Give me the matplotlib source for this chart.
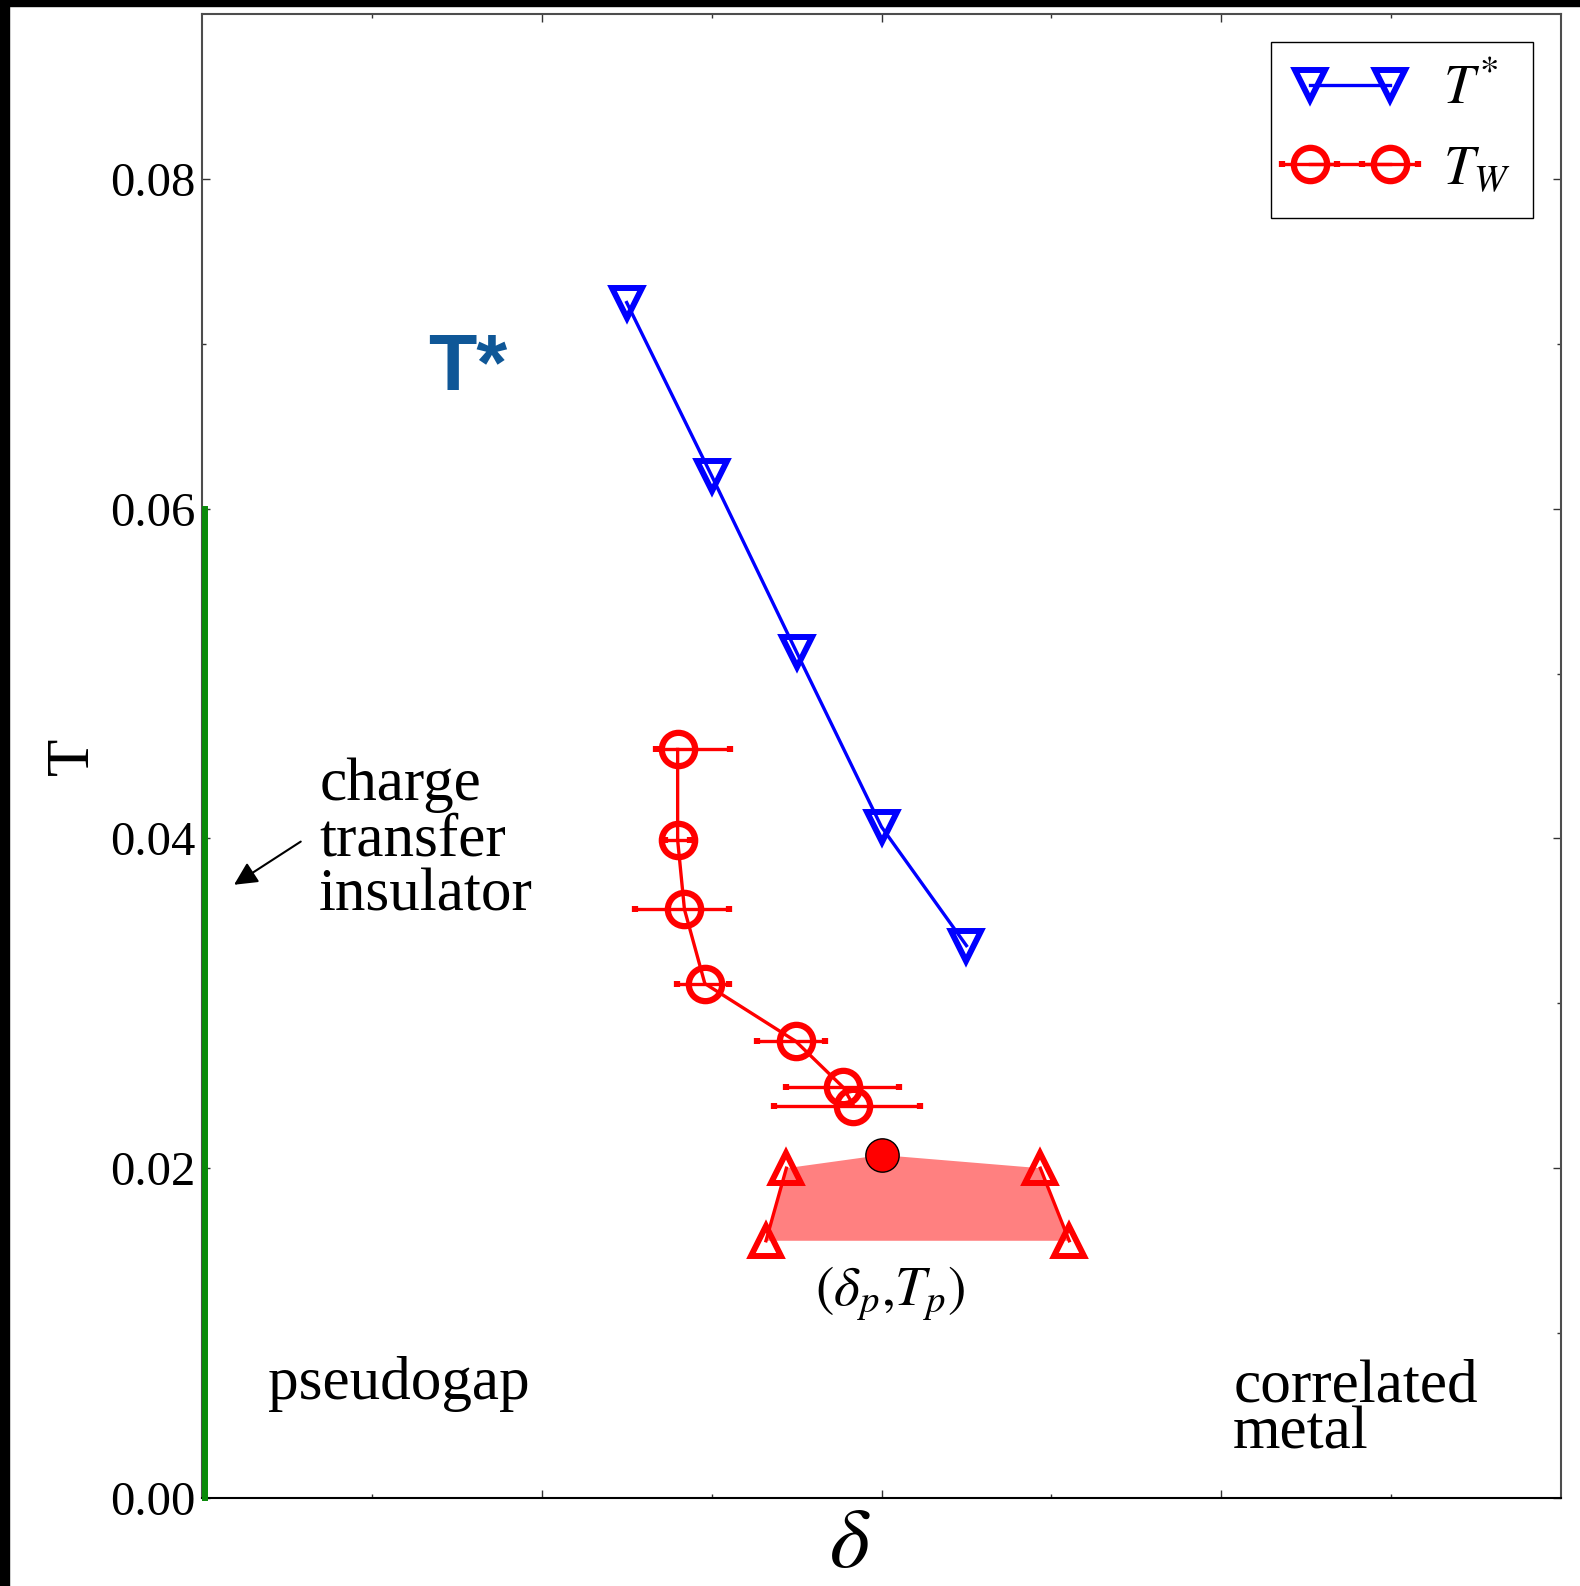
import numpy as np
import matplotlib
matplotlib.use("Agg")
import matplotlib.pyplot as plt
from matplotlib.patches import Rectangle

plt.rcParams['font.family'] = 'serif'
plt.rcParams['font.serif'] = ['Liberation Serif', 'DejaVu Serif']
plt.rcParams['mathtext.fontset'] = 'stix'

# T* line (pseudogap onset)
tstar_d = [0.050, 0.060, 0.070, 0.080, 0.090]
tstar_T = [0.0725, 0.0620, 0.0513, 0.0407, 0.0335]

# T_W (Widom line) with asymmetric doping error bars
tw_d = [0.0560, 0.0560, 0.0568, 0.0592, 0.0699, 0.0755, 0.0767]
tw_T = [0.0454, 0.0399, 0.0357, 0.0312, 0.0277, 0.0249, 0.0238]
tw_err_lo = [0.0025, 0.0015, 0.0058, 0.0033, 0.0046, 0.0067, 0.0094]
tw_err_hi = [0.0062, 0.0015, 0.0053, 0.0029, 0.0034, 0.0066, 0.0078]

# first-order transition boundaries
left_d = [0.0664, 0.0688]
left_T = [0.0156, 0.0200]
right_d = [0.0987, 0.1021]
right_T = [0.0200, 0.0156]

# critical endpoint
crit_d = [0.080]
crit_T = [0.0208]

# Mott insulator at zero doping
ins_d = [0.0003, 0.0003]
ins_T = [0.0, 0.060]

fig = plt.figure(figsize=(15.8, 15.86), dpi=100)
ax = fig.add_axes([202/1580, 1 - 1498/1586, 1359/1580, 1484/1586])

# shaded coexistence region
poly_d = [left_d[0], left_d[1], crit_d[0], right_d[0], right_d[1]]
poly_T = [left_T[0], left_T[1], crit_T[0], right_T[0], right_T[1]]
ax.fill(poly_d, poly_T, color='#ff8080', lw=0, zorder=1)

ax.plot(tstar_d, tstar_T, 'v-', color='b', mfc='none', ms=22, mew=4.3, lw=2.4,
        label='$T^{*}$', zorder=3)
ax.errorbar(tw_d, tw_T, xerr=[tw_err_lo, tw_err_hi], fmt='o-', color='r',
            mfc='none', ms=24, mew=4.5, lw=2.4, elinewidth=2.4,
            capsize=2.5, capthick=5, label='$T_W$', zorder=3)
ax.plot(left_d, left_T, '^-', color='r', mfc='none', ms=22, mew=4.3, lw=2.4, zorder=3)
ax.plot(right_d, right_T, '^-', color='r', mfc='none', ms=22, mew=4.3, lw=2.4, zorder=3)
ax.plot(crit_d, crit_T, 'o', color='r', mec='k', ms=24, mew=1, zorder=4)
ax.plot(ins_d, ins_T, '-', color='#0a8a0a', lw=4.3, clip_on=False, zorder=5)

ax.set_xlim(0, 0.16)
ax.set_ylim(0, 0.09)
ax.set_xticks([0.04, 0.08, 0.12])
ax.set_xticks([0.02, 0.06, 0.10, 0.14], minor=True)
ax.set_yticks([0.0, 0.02, 0.04, 0.06, 0.08])
ax.set_yticks([0.01, 0.03, 0.05, 0.07], minor=True)
ax.set_yticklabels(['0.00', '0.02', '0.04', '0.06', '0.08'])
ax.tick_params(which='both', direction='in', top=True, right=True,
               labelbottom=False, labelsize=35, pad=5, color='0.2')
ax.tick_params(which='major', length=6, width=1)
ax.tick_params(which='minor', length=3, width=1)
for s in ax.spines.values():
    s.set_color('0.3')
    s.set_linewidth(1.5)
ax.spines['bottom'].set_color('k')

ax.set_xlabel(r'$\delta$', fontsize=62)
ax.xaxis.set_label_coords(0.477, -0.006)
ax.set_ylabel('T', fontsize=44)
ax.yaxis.set_label_coords(-0.074, 0.5)

ax.text(0.0266, 0.0672, 'T*', fontsize=57, fontweight='bold',
        family='Liberation Sans', color='#0f5797')
ax.text(0.0138, 0.0356, 'charge\ntransfer\ninsulator', fontsize=44,
        va='baseline', linespacing=1.0)
ax.annotate('', xy=(0.0035, 0.0371), xytext=(0.0119, 0.0399),
            arrowprops=dict(arrowstyle='-|>', color='k', lw=1.5, mutation_scale=35))
ax.text(0.0078, 0.0060, 'pseudogap', fontsize=44, va='baseline')
ax.text(0.1214, 0.0030, 'correlated\nmetal', fontsize=44, va='baseline',
        linespacing=0.81)
ax.text(0.081, 0.0117, r'$(\delta_p{,}T_p)$', fontsize=40, ha='center', va='baseline')

ax.legend(loc='upper right', numpoints=2, fontsize=40, fancybox=False,
          edgecolor='k', framealpha=1, handlelength=2.05, handletextpad=0.65,
          borderaxespad=0.5)

fig.patches.append(Rectangle((0, 0), 9/1580, 1, transform=fig.transFigure,
                             color='k', zorder=10))
fig.patches.append(Rectangle((0, 1 - 6/1586), 1, 6/1586, transform=fig.transFigure,
                             color='k', zorder=10))

fig.savefig('out.png', dpi=100)
